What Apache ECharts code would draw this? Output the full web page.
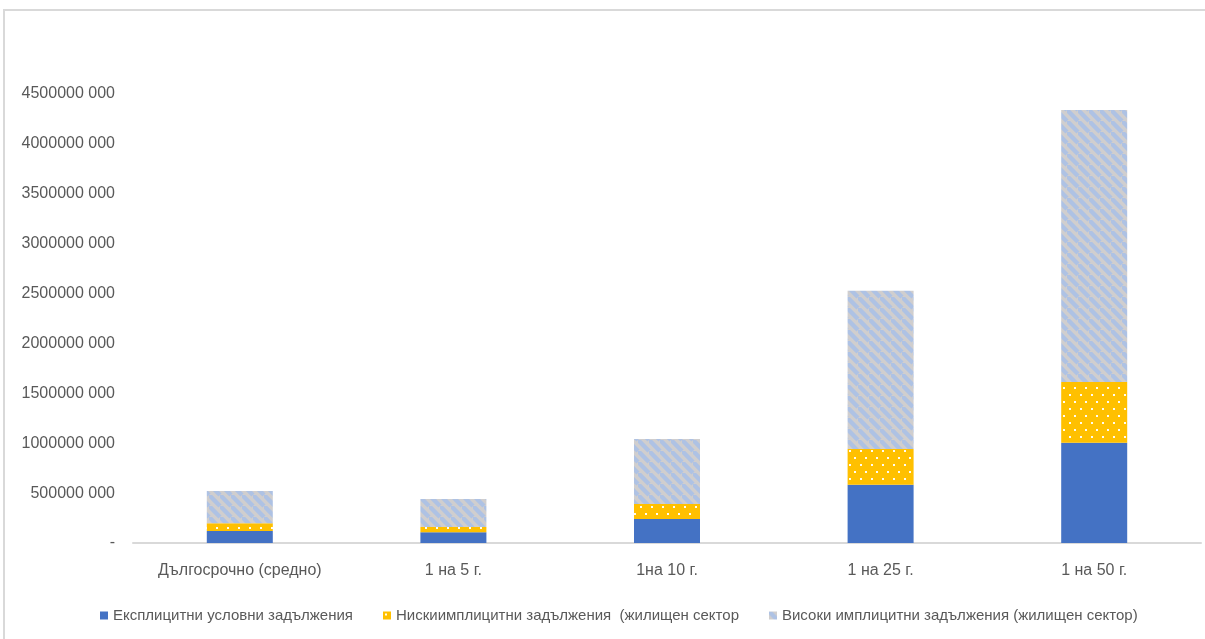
<!DOCTYPE html>
<html>
<head>
<meta charset="utf-8">
<script src="https://cdn.jsdelivr.net/npm/echarts@6/dist/echarts.min.js"></script>
<style>
  html, body { margin: 0; padding: 0; background: #fff; }
  #frame { position: absolute; left: 3px; top: 9px; width: 1210px; height: 640px;
           border-top: 2px solid #d9d9d9; border-left: 2px solid #d9d9d9; }
  #chart { position: absolute; left: 0; top: 0; width: 1205px; height: 639px; }
</style>
</head>
<body>
<div id="frame"></div>
<div id="chart"></div>
<script>
// Scenario categories
const categories = ['Дългосрочно (средно)', '1 на 5 г.', '1на 10 г.', '1 на 25 г.', '1 на 50 г.'];

// Liabilities by type (stacked)
const explicitLiabilities = [120000000, 107000000, 240000000, 583000000, 1005000000];
const lowImplicitHousing  = [77000000, 53000000, 151000000, 359000000, 608000000];
const highImplicitHousing = [324000000, 281000000, 651000000, 1586000000, 2726000000];

const seriesNames = [
  'Експлицитни условни задължения',
  'Нискиимплицитни задължения  (жилищен сектор',
  'Високи имплицитни задължения (жилищен сектор)'
];

// Diagonal stripe fill: light grey ground with soft blue stripes
function stripePattern() {
  const s = 11;
  const c = document.createElement('canvas');
  c.width = s; c.height = s;
  const g = c.getContext('2d');
  g.fillStyle = '#d0cece';
  g.fillRect(0, 0, s, s);
  g.strokeStyle = '#aec2e4';
  g.lineWidth = 4.4;
  [[-s, 0, 0, s], [0, 0, s, s], [0, -s, s, 0]].forEach(([x0, y0, x1, y1]) => {
    g.beginPath(); g.moveTo(x0, y0); g.lineTo(x1, y1); g.stroke();
  });
  return { image: c, repeat: 'repeat' };
}

// Dotted fill: amber ground with small white dots in staggered rows
function dotPattern() {
  const w = 11, h = 14;
  const c = document.createElement('canvas');
  c.width = w; c.height = h;
  const g = c.getContext('2d');
  g.fillStyle = '#ffc000';
  g.fillRect(0, 0, w, h);
  g.fillStyle = 'rgba(255,255,255,0.95)';
  g.fillRect(2, 2, 2, 2);
  g.fillRect(7, 9, 2, 2);
  return { image: c, repeat: 'repeat' };
}

const font = '"Liberation Sans Narrow", "Liberation Sans", sans-serif';
const textColor = '#595959';

function yLabel(v) {
  if (v === 0) return '-';
  const s = String(Math.round(v));
  return s.slice(0, -3) + ' ' + s.slice(-3);
}

const chart = echarts.init(document.getElementById('chart'), null, { renderer: 'canvas' });

const fills = ['#4472c4', dotPattern(), stripePattern()];
const values = [explicitLiabilities, lowImplicitHousing, highImplicitHousing];

chart.setOption({
  animation: false,
  backgroundColor: 'transparent',
  grid: { left: 133, right: 4, top: 94, bottom: 96, containLabel: false },
  legend: {
    bottom: 11,
    left: 95,
    itemWidth: 8,
    itemHeight: 8,
    itemGap: 30,
    icon: 'rect',
    textStyle: { fontFamily: font, fontSize: 15, color: textColor },
    data: seriesNames
  },
  xAxis: {
    type: 'category',
    data: categories,
    axisLine: { lineStyle: { color: '#d9d9d9', width: 2 } },
    axisTick: { show: false },
    axisLabel: { fontFamily: font, fontSize: 16, color: textColor, margin: 20 }
  },
  yAxis: {
    type: 'value',
    min: 0,
    max: 4500000000,
    interval: 500000000,
    axisLine: { show: false },
    axisTick: { show: false },
    splitLine: { show: false },
    axisLabel: { fontFamily: font, fontSize: 16, color: textColor, margin: 18, formatter: yLabel }
  },
  series: seriesNames.map((name, i) => ({
    name,
    type: 'bar',
    stack: 'total',
    barWidth: 66,
    data: values[i],
    itemStyle: { color: fills[i] }
  }))
});
</script>
</body>
</html>
